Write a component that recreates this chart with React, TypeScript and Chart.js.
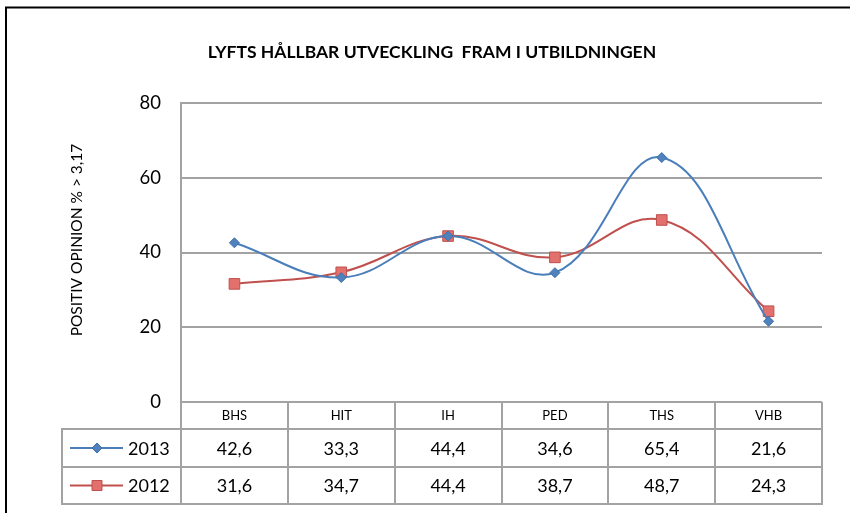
import React, { useEffect, useRef } from "react";
import { Chart, registerables } from "chart.js";

Chart.register(...registerables);

const TITLE = "LYFTS HÅLLBAR UTVECKLING  FRAM I UTBILDNINGEN";
const Y_TITLE = "POSITIV OPINION % > 3,17";
const categories = ["BHS", "HIT", "IH", "PED", "THS", "VHB"];
const seriesNames = ["2013", "2012"];
const values2013 = [42.6, 33.3, 44.4, 34.6, 65.4, 21.6];
const values2012 = [31.6, 34.7, 44.4, 38.7, 48.7, 24.3];
const yMin = 0;
const yMax = 80;
const yStep = 20;

const FONT = "Lato, 'Open Sans', sans-serif";
const GRID = "#a3a3a3";
const BLUE = "#4a7ebb";
const BLUE_FILL = "#4f81bd";
const RED = "#c0504d";
const RED_FILL = "#e2706c";

const fmt = (v: number) => v.toFixed(1).replace(".", ",");

const framePlugin = {
  id: "frame",
  beforeDraw(chart: any) {
    const ctx = chart.ctx;
    ctx.save();
    ctx.fillStyle = "#ffffff";
    ctx.fillRect(0, 0, chart.width, chart.height);
    ctx.strokeStyle = "#000000";
    ctx.lineWidth = 2;
    ctx.beginPath();
    ctx.moveTo(6, chart.height);
    ctx.lineTo(6, 7.5);
    ctx.lineTo(chart.width, 7.5);
    ctx.stroke();
    ctx.restore();
  },
};

const tablePlugin = {
  id: "dataTable",
  afterDraw(chart: any) {
    const ctx = chart.ctx;
    const xs = chart.scales.x;
    const area = chart.chartArea;
    const half = (xs.getPixelForValue(1) - xs.getPixelForValue(0)) / 2;
    const tableLeft = 62;
    const headerTop = area.bottom;
    const row1Top = 429;
    const row2Top = 467;
    const tableBottom = 504;

    ctx.save();
    // y-axis title
    ctx.fillStyle = "#000";
    ctx.font = `15.5px ${FONT}`;
    ctx.textAlign = "center";
    ctx.textBaseline = "middle";
    ctx.translate(77, 240);
    ctx.rotate(-Math.PI / 2);
    ctx.fillText(Y_TITLE, 0, 0);
    ctx.setTransform(1, 0, 0, 1, 0, 0);

    // table lines
    ctx.strokeStyle = GRID;
    ctx.lineWidth = 2;
    ctx.beginPath();
    [row1Top, row2Top, tableBottom].forEach((y) => {
      ctx.moveTo(tableLeft - 1, y);
      ctx.lineTo(area.right + 1, y);
    });
    ctx.moveTo(tableLeft, row1Top);
    ctx.lineTo(tableLeft, tableBottom);
    ctx.moveTo(area.left, headerTop);
    ctx.lineTo(area.left, tableBottom);
    categories.forEach((_, i) => {
      const xr = Math.round(xs.getPixelForValue(i) + half);
      ctx.moveTo(xr, headerTop);
      ctx.lineTo(xr, tableBottom);
    });
    ctx.stroke();

    // values
    const rows = [values2013, values2012];
    const rowCenters = [(row1Top + row2Top) / 2, (row2Top + tableBottom) / 2];
    ctx.fillStyle = "#000";
    ctx.font = `18px ${FONT}`;
    ctx.textBaseline = "middle";
    rows.forEach((vals, r) => {
      ctx.textAlign = "center";
      vals.forEach((v, i) => {
        ctx.fillText(fmt(v), xs.getPixelForValue(i), rowCenters[r] + 1);
      });
      ctx.textAlign = "left";
      ctx.fillText(seriesNames[r], 128, rowCenters[r] + 1);
    });

    // legend keys
    const ds = chart.data.datasets;
    rowCenters.forEach((cy, r) => {
      const d = ds[r];
      ctx.strokeStyle = d.borderColor;
      ctx.lineWidth = 2;
      ctx.beginPath();
      ctx.moveTo(70, cy);
      ctx.lineTo(123, cy);
      ctx.stroke();
      ctx.fillStyle = d.pointBackgroundColor;
      ctx.strokeStyle = d.pointBorderColor;
      ctx.lineWidth = 1;
      ctx.beginPath();
      if (r === 0) {
        const s = 5;
        ctx.moveTo(97, cy - s);
        ctx.lineTo(97 + s, cy);
        ctx.lineTo(97, cy + s);
        ctx.lineTo(97 - s, cy);
        ctx.closePath();
      } else {
        ctx.rect(97 - 5, cy - 5, 10, 10);
      }
      ctx.fill();
      ctx.stroke();
    });
    ctx.restore();
  },
};

export default function App() {
  const ref = useRef<HTMLCanvasElement | null>(null);

  useEffect(() => {
    if (!ref.current) return;
    const chart = new Chart(ref.current, {
      type: "line",
      data: {
        labels: categories,
        datasets: [
          {
            label: seriesNames[0],
            data: values2013,
            borderColor: BLUE,
            borderWidth: 2,
            pointStyle: "rectRot",
            pointRadius: 5,
            pointBackgroundColor: BLUE_FILL,
            pointBorderColor: "#3f6fa8",
            pointBorderWidth: 1,
            tension: 0.4,
            fill: false,
          },
          {
            label: seriesNames[1],
            data: values2012,
            borderColor: RED,
            borderWidth: 2,
            pointStyle: "rect",
            pointRadius: 7.5,
            pointBackgroundColor: RED_FILL,
            pointBorderColor: RED,
            pointBorderWidth: 1,
            tension: 0.4,
            fill: false,
          },
        ],
      },
      options: {
        responsive: false,
        animation: false,
        layout: { padding: { left: 42, right: 28, top: 0, bottom: 0 } },
        plugins: {
          legend: { display: false },
          tooltip: { enabled: false },
          title: {
            display: true,
            text: TITLE,
            color: "#000",
            font: { family: FONT, size: 17.5, weight: "bold" },
            padding: { top: 42, bottom: 40 },
          },
        },
        scales: {
          x: {
            offset: true,
            grid: { display: false, drawTicks: false },
            border: { display: false },
            ticks: { color: "#000", font: { family: FONT, size: 13 }, padding: 6 },
            afterFit: (s: any) => {
              s.height = 111;
            },
          },
          y: {
            min: yMin,
            max: yMax,
            ticks: { stepSize: yStep, color: "#000", font: { family: FONT, size: 18.5 }, padding: 20 },
            grid: { color: GRID, lineWidth: 2, drawTicks: false },
            border: { display: true, color: GRID, width: 2 },
            afterFit: (s: any) => {
              s.width = 139;
            },
          },
        },
      },
      plugins: [framePlugin, tablePlugin],
    } as any);
    return () => chart.destroy();
  }, []);

  return (
    <div style={{ position: "fixed", left: 0, top: 0, width: 850, height: 513 }}>
      <canvas ref={ref} width={850} height={513} />
    </div>
  );
}
